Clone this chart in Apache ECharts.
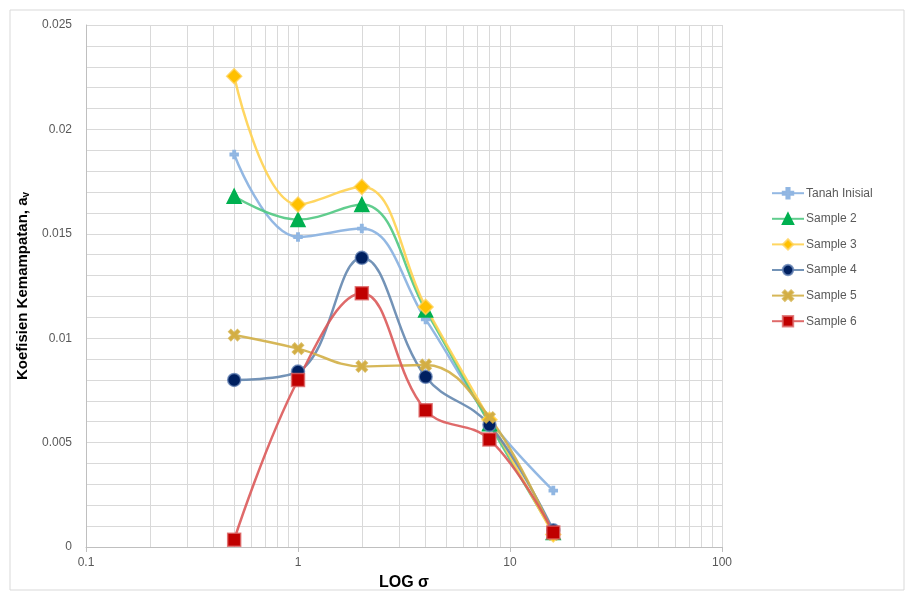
<!DOCTYPE html>
<html><head><meta charset="utf-8">
<script src="https://cdn.jsdelivr.net/npm/echarts@6/dist/echarts.min.js"></script>
<style>html,body{margin:0;padding:0;background:#fff}#c{width:913px;height:596px}</style>
</head><body><div id="c"></div>
<script>
const xValues = [0.5, 1, 2, 4, 8, 16];
const tanahInisial = [0.0188, 0.01485, 0.01525, 0.0109, 0.0061, 0.0027];
const sample2 = [0.0168, 0.01568, 0.0164, 0.01135, 0.0059, 0.0007];
const sample3 = [0.02255, 0.0164, 0.01725, 0.0115, 0.0061, 0.0006];
const sample4 = [0.0080, 0.0084, 0.01385, 0.00815, 0.00585, 0.0008];
const sample5 = [0.01015, 0.0095, 0.00865, 0.00872, 0.0062, 0.0006];
const sample6 = [0.00035, 0.0080, 0.01215, 0.00655, 0.00515, 0.0007];
const minorX = [0.2,0.3,0.4,0.5,0.6,0.7,0.8,0.9,2,3,4,5,6,7,8,9,20,30,40,50,60,70,80,90];
const xTickLabels = ['0.1','1','10','100'];

const chart = echarts.init(document.getElementById('c'), null, {renderer:'canvas'});
const pair = arr => arr.map((v,i)=>[xValues[i], v]);
const xPath = 'path://M2,0 L5,3 L8,0 L10,2 L7,5 L10,8 L8,10 L5,7 L2,10 L0,8 L3,5 L0,2 Z';
const plusPath = 'path://M3.5,0 H6.5 V3.5 H10 V6.5 H6.5 V10 H3.5 V6.5 H0 V3.5 H3.5 Z';

function mk(name, data, lineColor, markColor, symbol, size, borderColor){
  return {
    name, type:'line', data: pair(data), smooth:0.4,
    symbol, symbolSize:size,
    lineStyle:{color:lineColor, width:2.5},
    itemStyle:{color:markColor, borderColor:borderColor||lineColor, borderWidth:1.5},
    emphasis:{disabled:true}
  };
}
const series = [
  mk('Tanah Inisial', tanahInisial, 'rgba(141,180,226,0.95)', '#95B9E2', plusPath, 8),
  mk('Sample 2', sample2, 'rgba(80,200,130,0.9)', '#00B050', 'triangle', 14, '#00B050'),
  mk('Sample 3', sample3, 'rgba(255,210,80,0.9)', '#FFC000', 'diamond', 15, 'rgba(255,210,90,0.8)'),
  mk('Sample 4', sample4, 'rgba(100,135,175,0.9)', '#002060', 'circle', 13, 'rgba(100,130,180,0.8)'),
  mk('Sample 5', sample5, 'rgba(210,175,70,0.9)', '#D4AE44', xPath, 11, 'rgba(210,175,70,0.8)'),
  mk('Sample 6', sample6, 'rgba(220,90,90,0.9)', '#C00000', 'rect', 13, 'rgba(220,100,100,0.8)')
];
series[0].markLine = {
  silent:true, symbol:'none', label:{show:false},
  lineStyle:{color:'#D9D9D9', type:'solid', width:1},
  data: minorX.map(x=>({xAxis:x})), z:0, animation:false
};

chart.setOption({
  animation:false,
  backgroundColor:'#fff',
  graphic:[{type:'rect', shape:{x:10,y:10,width:894,height:580}, style:{fill:'none', stroke:'#D9D9D9', lineWidth:1}, silent:true, z:-10}],
  grid:{left:86, right:191, top:25, bottom:49, containLabel:false},
  legend:{
    orient:'vertical', left:766, top:182, itemGap:13.2, itemWidth:32, itemHeight:13,
    textStyle:{color:'#595959', fontSize:12, fontFamily:'Liberation Sans, Arial', padding:[0,0,0,-3]},
    data: series.map(s=>s.name)
  },
  xAxis:{
    type:'log', logBase:10, min:0.1, max:100,
    name:'LOG σ', nameLocation:'middle', nameGap:28,
    nameTextStyle:{fontSize:16, fontWeight:'bold', color:'#000', fontFamily:'Liberation Sans, Arial'},
    axisLine:{lineStyle:{color:'#BFBFBF'}},
    axisTick:{show:true, length:5, lineStyle:{color:'#BFBFBF'}},
    axisLabel:{color:'#595959', fontSize:12, fontFamily:'Liberation Sans, Arial', margin:10,
      formatter:v=>{const s=String(+v.toPrecision(3)); return xTickLabels.includes(s)?s:'';}},
    splitLine:{show:true, lineStyle:{color:'#D9D9D9'}},
    minorTick:{show:false}, minorSplitLine:{show:false}
  },
  yAxis:{
    type:'value', min:0, max:0.025, interval:0.005,
    name:'Koefisien Kemampatan, a{s|v}', nameLocation:'middle', nameGap:47, nameRotate:90,
    nameTextStyle:{fontSize:15, fontWeight:'bold', color:'#000', fontFamily:'Liberation Sans, Arial',
      rich:{s:{fontSize:10, fontWeight:'bold', verticalAlign:'bottom', padding:[6,0,0,0]}}},
    axisLine:{show:true, lineStyle:{color:'#BFBFBF'}},
    axisTick:{show:false},
    axisLabel:{color:'#595959', fontSize:12, fontFamily:'Liberation Sans, Arial', margin:14},
    splitLine:{show:true, lineStyle:{color:'#D9D9D9'}},
    minorTick:{show:false},
    minorSplitLine:{show:true, lineStyle:{color:'#D9D9D9'}},
    splitNumber:5
  },
  series
});
</script></body></html>
